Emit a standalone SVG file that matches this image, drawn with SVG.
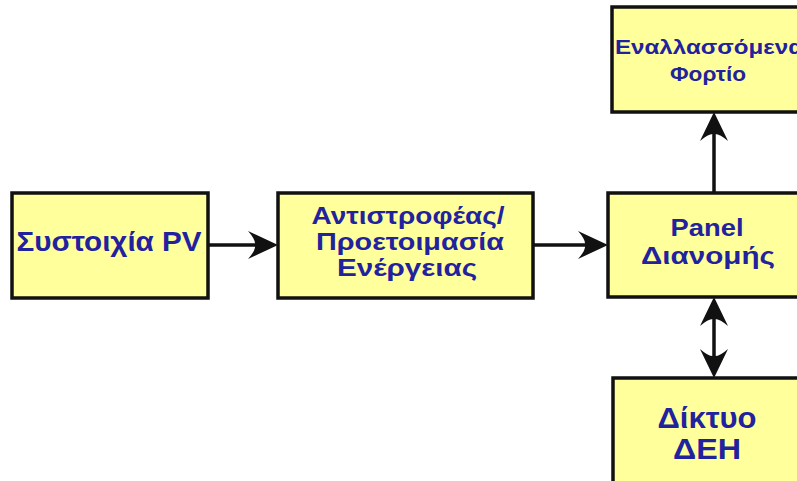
<svg xmlns="http://www.w3.org/2000/svg" width="797" height="481" viewBox="0 0 797 481">
<defs>
<style>
.box{fill:#ffff9c;stroke:#111;stroke-width:3.5}
.t{font-family:"Liberation Sans",Arial,sans-serif;font-weight:bold;fill:#22229e;text-anchor:middle}
.ln{stroke:#111;stroke-width:3.5;fill:none}
.ah{fill:#111}
</style>
</defs>
<rect width="797" height="481" fill="#fff"/>
<g id="connectors">
<line class="ln" x1="208" y1="245" x2="262" y2="245"/>
<path class="ah" d="M278,245 L248,231 Q256,240 255,245 Q256,250 248,259 Z"/>
<line class="ln" x1="533" y1="245" x2="592" y2="245"/>
<path class="ah" d="M608,245 L578,231 Q586,240 585,245 Q586,250 578,259 Z"/>
<line class="ln" x1="714" y1="193" x2="714" y2="128"/>
<path class="ah" d="M714,112 L700,141 Q709,133 714,134 Q719,133 728,141 Z"/>
<line class="ln" x1="714" y1="312" x2="714" y2="362"/>
<path class="ah" d="M714,297 L700,326 Q709,318 714,319 Q719,318 728,326 Z"/>
<path class="ah" d="M714,378 L700,349 Q709,357 714,356 Q719,357 728,349 Z"/>
</g>
<g id="node-pv">
<rect class="box" x="12" y="193" width="196" height="105"/>
<text class="t" x="109" y="251" font-size="28" textLength="185" lengthAdjust="spacingAndGlyphs">Συστοιχία PV</text>
</g>
<g id="node-inverter">
<rect class="box" x="278" y="193" width="255" height="105"/>
<text class="t" x="408" y="224" font-size="24" textLength="193" lengthAdjust="spacingAndGlyphs">Αντιστροφέας/</text>
<text class="t" x="410" y="250" font-size="24" textLength="188" lengthAdjust="spacingAndGlyphs">Προετοιμασία</text>
<text class="t" x="407" y="276" font-size="24" textLength="140" lengthAdjust="spacingAndGlyphs">Ενέργειας</text>
</g>
<g id="node-panel">
<rect class="box" x="608" y="193" width="200" height="104"/>
<text class="t" x="707" y="236" font-size="24" textLength="73" lengthAdjust="spacingAndGlyphs">Panel</text>
<text class="t" x="708" y="264" font-size="24" textLength="134" lengthAdjust="spacingAndGlyphs">Διανομής</text>
</g>
<g id="node-load">
<rect class="box" x="612" y="7" width="200" height="105"/>
<text class="t" x="709" y="54" font-size="21" textLength="188" lengthAdjust="spacingAndGlyphs">Εναλλασσόμενα</text>
<text class="t" x="708" y="81" font-size="21" textLength="76" lengthAdjust="spacingAndGlyphs">Φορτίο</text>
</g>
<g id="node-grid">
<rect class="box" x="613" y="378" width="200" height="120"/>
<text class="t" x="707" y="428" font-size="29" textLength="99" lengthAdjust="spacingAndGlyphs">Δίκτυο</text>
<text class="t" x="707" y="459" font-size="29" textLength="68" lengthAdjust="spacingAndGlyphs">ΔΕΗ</text>
</g>
</svg>
